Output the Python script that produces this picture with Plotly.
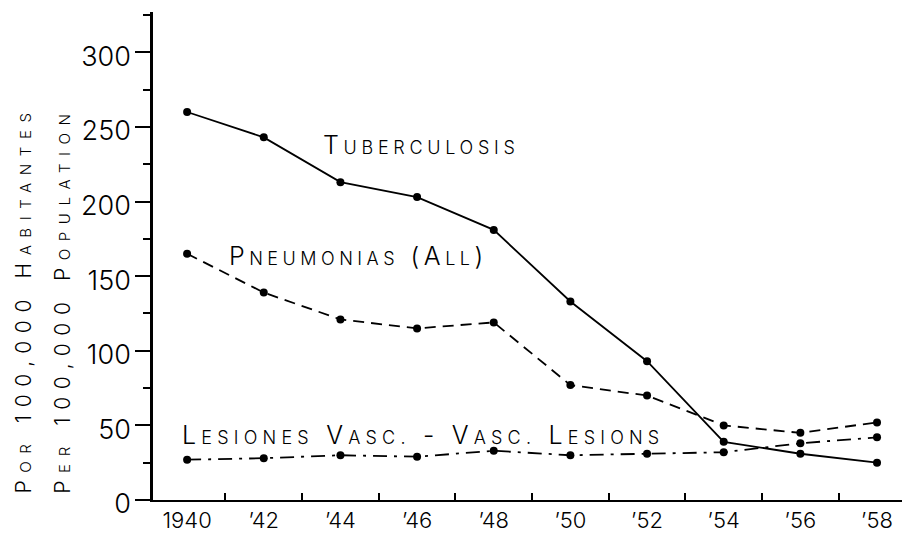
import plotly.graph_objects as go

years = [1940, 1942, 1944, 1946, 1948, 1950, 1952, 1954, 1956, 1958]
tuberculosis = [260, 243, 213, 203, 181, 133, 93, 39, 31, 25]
pneumonias = [165, 139, 121, 115, 119, 77, 70, 50, 45, 52]
vasc_lesions = [27, 28, 30, 29, 33, 30, 31, 32, 38, 42]

x_tickvals = [1940, 1942, 1944, 1946, 1948, 1950, 1952, 1954, 1956, 1958]
x_ticktext = ["1940", "\u201942", "\u201944", "\u201946", "\u201948", "\u201950",
              "\u201952", "\u201954", "\u201956", "\u201958"]
y_tickvals = [0, 50, 100, 150, 200, 250, 300]

label_font = "Inter, Lato, Liberation Sans, sans-serif"


def small_caps(text, small_px, spacing):
    # first letter of each word full size, the rest as smaller capitals
    words = []
    for w in text.split(" "):
        idx = next((i for i, c in enumerate(w) if c.isalpha()), None)
        if idx is None:
            words.append(w)
            continue
        head = w[:idx + 1].upper()
        rest = w[idx + 1:]
        trail = ""
        while rest and not rest[-1].isalpha() and rest[-1] != ".":
            trail = rest[-1] + trail
            rest = rest[:-1]
        body = f"<span style='font-size:{small_px}px'>{rest.upper()}</span>" if rest else ""
        words.append(head + body + trail)
    return f"<span style='letter-spacing:{spacing}px'>" + " ".join(words) + "</span>"


fig = go.Figure()
fig.add_trace(go.Scatter(
    x=years, y=tuberculosis, mode="lines+markers", name="Tuberculosis",
    line=dict(color="black", width=1.8),
    marker=dict(color="black", size=8)))
fig.add_trace(go.Scatter(
    x=years, y=pneumonias, mode="lines+markers", name="Pneumonias (All)",
    line=dict(color="black", width=1.8, dash="11px,7px"),
    marker=dict(color="black", size=8)))
fig.add_trace(go.Scatter(
    x=years, y=vasc_lesions, mode="lines+markers", name="Lesiones Vasc. - Vasc. Lesions",
    line=dict(color="black", width=1.8, dash="14px,7px,3px,7px"),
    marker=dict(color="black", size=8)))

lab = dict(family=label_font, size=25, color="black", weight=300)
fig.add_annotation(x=1946.1, y=238, xref="x", yref="y", showarrow=False,
                   text=small_caps("Tuberculosis", 18, 4.7),
                   font=lab, xanchor="center", yanchor="middle")
fig.add_annotation(x=1944.46, y=163.5, xref="x", yref="y", showarrow=False,
                   text=small_caps("Pneumonias (All)", 18, 4.5),
                   font=lab, xanchor="center", yanchor="middle")
fig.add_annotation(x=1946.15, y=43.7, xref="x", yref="y", showarrow=False,
                   text=small_caps("Lesiones Vasc. - Vasc. Lesions", 18, 5.2),
                   font=lab, xanchor="center", yanchor="middle")

ylab = dict(family=label_font, size=21, color="black", weight=300)
fig.add_annotation(x=-0.172, y=0.41, xref="paper", yref="paper", showarrow=False,
                   text=small_caps("Por 100,000 habitantes", 15, 7.6),
                   font=ylab, textangle=-90, xanchor="center", yanchor="middle")
fig.add_annotation(x=-0.12, y=0.41, xref="paper", yref="paper", showarrow=False,
                   text=small_caps("Per 100,000 population", 15, 7.6),
                   font=ylab, textangle=-90, xanchor="center", yanchor="middle")

# the page body adds an 8px offset, so the figure is 8px smaller
fig.update_layout(
    width=902, height=529,
    margin=dict(l=145, r=5, t=4, b=37),
    paper_bgcolor="white", plot_bgcolor="white",
    showlegend=False,
    xaxis=dict(
        range=[1939.11, 1958.73],
        tickvals=x_tickvals, ticktext=x_ticktext,
        showline=True, linecolor="black", linewidth=2,
        ticks="", showgrid=False, zeroline=False,
        tickfont=dict(family=label_font, size=22, color="black", weight=300),
        minor=dict(tick0=1941, dtick=2, ticks="inside", ticklen=7, tickwidth=2,
                   tickcolor="black", showgrid=False),
    ),
    yaxis=dict(
        range=[0, 327],
        tickvals=y_tickvals,
        showline=True, linecolor="black", linewidth=2.5,
        ticks="outside", ticklen=15, tickwidth=2, tickcolor="black",
        ticklabelstandoff=-1, ticklabelshift=4,
        showgrid=False, zeroline=False,
        tickfont=dict(family=label_font, size=27, color="black", weight=300),
        minor=dict(tick0=25, dtick=50, ticks="outside", ticklen=7, tickwidth=2,
                   tickcolor="black", showgrid=False),
    ),
)

fig.write_html("out.html")
